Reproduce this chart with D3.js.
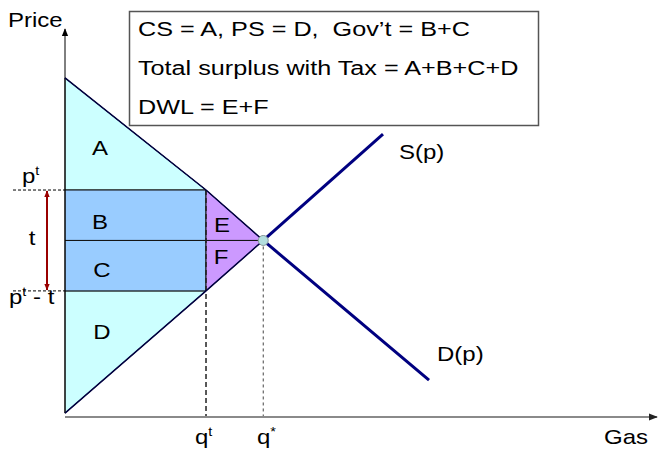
<!DOCTYPE html>
<html>
<head>
<meta charset="utf-8">
<script src="https://cdn.jsdelivr.net/npm/d3@7"></script>
<style>
  body { margin: 0; background: #fff; }
  text { font-family: "Liberation Sans", Arial, sans-serif; fill: #000; white-space: pre; }
</style>
</head>
<body>
<div id="chart"></div>
<script>
// valeurs (unités arbitraires)
const demandPts = [[0, 8.74], [6.17, 0.95]];
const supplyPts = [[0, 0.10], [5.39, 7.29]];
const qStar = 3.36, pStar = 4.55;
const qTax = 2.39, pBuyer = 5.85, pSeller = 3.25;
const boxLines = ["CS = A, PS = D,  Gov\u2019t = B+C", "Total surplus with Tax = A+B+C+D", "DWL = E+F"];

const width = 658, height = 450;
const sx = 1.2; // le texte de l'image est étiré horizontalement

const x = d3.scaleLinear().domain([0, 10]).range([65, 655]);
const y = d3.scaleLinear().domain([0, 10]).range([417, 29]);

const svg = d3.select("#chart").append("svg")
  .attr("width", width)
  .attr("height", height);

const defs = svg.append("defs");
function marker(id, color, size) {
  defs.append("marker")
    .attr("id", id)
    .attr("viewBox", "0 0 10 10")
    .attr("refX", 9).attr("refY", 5)
    .attr("markerWidth", size).attr("markerHeight", size)
    .attr("markerUnits", "userSpaceOnUse")
    .attr("orient", "auto-start-reverse")
    .append("path")
    .attr("d", "M0,1 L10,5 L0,9 Z")
    .attr("fill", color);
}
marker("arrBlack", "#000", 8);
marker("arrGray", "#222", 9);
marker("arrRed", "#990000", 7);

const line = d3.line().x(d => x(d[0])).y(d => y(d[1]));

// zones
const regions = [
  { pts: [[0, demandPts[0][1]], [qTax, pBuyer], [0, pBuyer]], fill: "#ccffff" },
  { pts: [[0, pSeller], [qTax, pSeller], [0, supplyPts[0][1]]], fill: "#ccffff" },
  { pts: [[0, pBuyer], [qTax, pBuyer], [qTax, pStar], [0, pStar]], fill: "#99ccff" },
  { pts: [[0, pStar], [qTax, pStar], [qTax, pSeller], [0, pSeller]], fill: "#99ccff" },
  { pts: [[qTax, pBuyer], [qStar, pStar], [qTax, pStar]], fill: "#cc99ff" },
  { pts: [[qTax, pStar], [qStar, pStar], [qTax, pSeller]], fill: "#cc99ff" }
];
svg.append("g").selectAll("path")
  .data(regions)
  .enter().append("path")
  .attr("d", d => line(d.pts) + "Z")
  .attr("fill", d => d.fill)
  .attr("stroke", "#111")
  .attr("stroke-width", 1);

// pointillés
svg.append("line")
  .attr("x1", x(qTax)).attr("x2", x(qTax))
  .attr("y1", y(pBuyer)).attr("y2", y(0))
  .attr("stroke", "#222").attr("stroke-width", 1.5)
  .attr("stroke-dasharray", "5,3");
svg.append("line")
  .attr("x1", x(qStar)).attr("x2", x(qStar))
  .attr("y1", y(pStar)).attr("y2", y(0))
  .attr("stroke", "#444").attr("stroke-width", 1)
  .attr("stroke-dasharray", "3,3");
[pBuyer, pSeller].forEach(p => {
  svg.append("line")
    .attr("x1", 13).attr("x2", x(0))
    .attr("y1", y(p)).attr("y2", y(p))
    .attr("stroke", "#000").attr("stroke-width", 1)
    .attr("stroke-dasharray", "3,2");
});

// axes
svg.append("line")
  .attr("x1", x(0)).attr("x2", x(0))
  .attr("y1", y(supplyPts[0][1])).attr("y2", y(10))
  .attr("stroke", "#000").attr("stroke-width", 1)
  .attr("marker-end", "url(#arrBlack)");
svg.append("line")
  .attr("x1", x(0)).attr("x2", x(10) + 2)
  .attr("y1", y(0)).attr("y2", y(0))
  .attr("stroke", "#8a8a8a").attr("stroke-width", 2)
  .attr("marker-end", "url(#arrGray)");

// offre et demande
const eq = [qStar, pStar];
svg.append("path").attr("d", line([demandPts[0], [qTax, pBuyer], eq]))
  .attr("fill", "none").attr("stroke", "#000040").attr("stroke-width", 1.5);
svg.append("path").attr("d", line([supplyPts[0], [qTax, pSeller], eq]))
  .attr("fill", "none").attr("stroke", "#000040").attr("stroke-width", 1.5);
svg.append("path").attr("d", line([eq, demandPts[1]]))
  .attr("fill", "none").attr("stroke", "#000080").attr("stroke-width", 3);
svg.append("path").attr("d", line([eq, supplyPts[1]]))
  .attr("fill", "none").attr("stroke", "#000080").attr("stroke-width", 3);

svg.append("circle")
  .attr("cx", x(qStar)).attr("cy", y(pStar)).attr("r", 5)
  .attr("fill", "#b3dede").attr("stroke", "#889999").attr("stroke-width", 1);

// flèche de la taxe
svg.append("line")
  .attr("x1", 47).attr("x2", 47)
  .attr("y1", y(pBuyer) + 1).attr("y2", y(pSeller) - 1)
  .attr("stroke", "#990000").attr("stroke-width", 2)
  .attr("marker-start", "url(#arrRed)")
  .attr("marker-end", "url(#arrRed)");

// textes
function label(px, py, txt, size, anchor) {
  const t = svg.append("text")
    .attr("transform", `translate(${px},${py}) scale(${sx},1)`)
    .attr("font-size", size)
    .attr("text-anchor", anchor || "start");
  return t.text(txt);
}
function supLabel(px, py, base, sup, rest, size) {
  const t = svg.append("text")
    .attr("transform", `translate(${px},${py}) scale(${sx},1)`)
    .attr("font-size", size);
  t.append("tspan").text(base);
  t.append("tspan").attr("font-size", size * 0.6).attr("dy", -size * 0.4).text(sup);
  if (rest) t.append("tspan").attr("dy", size * 0.4).text(rest);
  return t;
}

label(8, 27, "Price", 20);
label(604, 444, "Gas", 20);
label(399, 159, "S(p)", 20);
label(437, 361, "D(p)", 20);

label(100, 155, "A", 20, "middle");
label(100, 229, "B", 20, "middle");
label(102, 277, "C", 20, "middle");
label(102, 339, "D", 20, "middle");
label(222, 232, "E", 20, "middle");
label(221, 264, "F", 20, "middle");
label(32, 245, "t", 20, "middle");

supLabel(22, 183, "p", "t", null, 20);
supLabel(9, 304, "p", "t", " - t", 20);
supLabel(195, 444, "q", "t", null, 20);
supLabel(257, 444, "q", "*", null, 20);

// encadré
svg.append("rect")
  .attr("x", 129.5).attr("y", 11.5)
  .attr("width", 409).attr("height", 114)
  .attr("fill", "#fff")
  .attr("stroke", "#555").attr("stroke-width", 1.5);
boxLines.forEach((s, i) => label(138, 36 + i * 39, s, 21));
</script>
</body>
</html>
